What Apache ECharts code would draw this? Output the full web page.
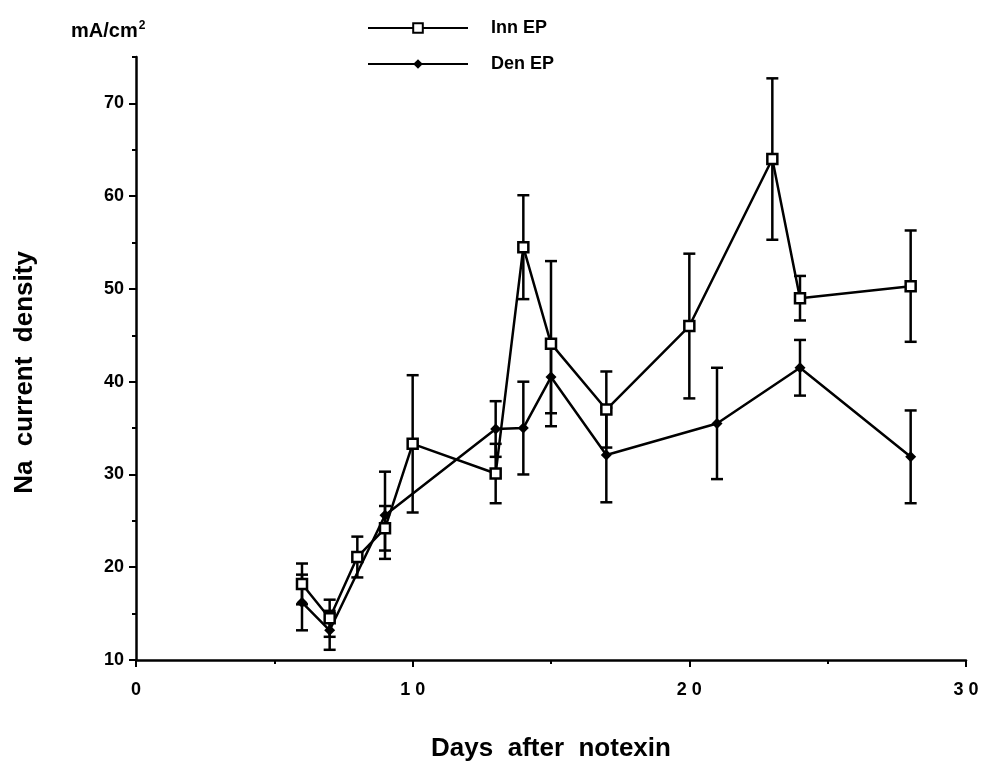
<!DOCTYPE html>
<html>
<head>
<meta charset="utf-8">
<script src="https://cdn.jsdelivr.net/npm/echarts@6/dist/echarts.min.js"></script>
<style>
  html, body { margin: 0; padding: 0; background: #fff; }
  #chart { width: 982px; height: 763px; }
</style>
</head>
<body>
<div id="chart"></div>
<script>
  // days after notexin
  var innDays = [6, 7, 8, 9, 10, 13, 14, 15, 17, 20, 23, 24, 28]
  var innMean = [18.2, 14.5, 21.1, 24.2, 33.3, 30.1, 54.5, 44.1, 37.0, 46.0, 64.0, 49.0, 50.3]
  var innErr = [2.2, 2.0, 2.2, 2.4, 7.4, 3.2, 5.6, 8.9, 4.1, 7.8, 8.7, 2.4, 6.0]

  var denDays = [6, 7, 9, 13, 14, 15, 17, 21, 24, 28]
  var denMean = [16.2, 13.2, 25.6, 34.9, 35.0, 40.5, 32.1, 35.5, 41.5, 31.9]
  var denErr = [3.0, 2.1, 4.7, 3.0, 5.0, 3.9, 5.1, 6.0, 3.0, 5.0]

  var xTicks = [0, 10, 20, 30]
  var yTicks = [10, 20, 30, 40, 50, 60, 70]

  var font = "'Liberation Sans', Arial, sans-serif"
  var ink = '#000'

  function pairs (xs, ys) {
    return xs.map(function (x, i) { return [x, ys[i]] })
  }
  function bars (xs, ys, es) {
    return xs.map(function (x, i) { return [x, ys[i] - es[i], ys[i] + es[i]] })
  }

  function renderErr (params, api) {
    var lo = api.coord([api.value(0), api.value(1)])
    var hi = api.coord([api.value(0), api.value(2)])
    var w = 6
    var st = { stroke: ink, lineWidth: 2.5 }
    return {
      type: 'group',
      children: [
        { type: 'line', shape: { x1: lo[0], y1: lo[1], x2: hi[0], y2: hi[1] }, style: st },
        { type: 'line', shape: { x1: lo[0] - w, y1: lo[1], x2: lo[0] + w, y2: lo[1] }, style: st },
        { type: 'line', shape: { x1: hi[0] - w, y1: hi[1], x2: hi[0] + w, y2: hi[1] }, style: st }
      ]
    }
  }

  var chart = echarts.init(document.getElementById('chart'))
  var option = {
    animation: false,
    backgroundColor: '#fff',
    grid: { left: 136, right: 16, top: 57, bottom: 103, outerBoundsMode: 'none' },
    title: {
      text: 'mA/cm{sup|2}',
      left: 66,
      top: 15,
      textStyle: {
        fontFamily: font, fontSize: 20, fontWeight: 'bold', color: ink,
        rich: { sup: { fontFamily: font, fontSize: 12, fontWeight: 'bold', color: ink, verticalAlign: 'top', padding: [0, 0, 11, 1] } }
      }
    },
    legend: {
      orient: 'vertical',
      left: 362,
      top: 14,
      itemWidth: 100,
      itemHeight: 12,
      itemGap: 18,
      data: ['Inn EP', 'Den EP'],
      textStyle: { fontFamily: font, fontSize: 18, fontWeight: 'bold', color: ink, padding: [0, 0, 0, 18] }
    },
    xAxis: {
      type: 'value',
      min: 0,
      max: 30,
      interval: 10,
      name: 'Days  after  notexin',
      nameLocation: 'middle',
      nameGap: 76,
      nameTextStyle: { fontFamily: font, fontSize: 26, fontWeight: 'bold', color: ink },
      axisLine: { onZero: false, lineStyle: { color: ink, width: 2.5 } },
      axisTick: { length: 7, lineStyle: { color: ink, width: 2 } },
      minorTick: { show: true, splitNumber: 2, length: 4, lineStyle: { color: ink, width: 2 } },
      splitLine: { show: false },
      axisLabel: {
        margin: 21,
        fontFamily: font, fontSize: 18, fontWeight: 'bold', color: ink,
        formatter: function (v) {
          return xTicks.indexOf(v) >= 0 ? String(v).split('').join(' ') : ''
        }
      }
    },
    yAxis: [{
      type: 'value',
      min: 10,
      max: 75,
      interval: 10,
      name: 'Na  current  density',
      nameLocation: 'middle',
      nameGap: 98,
      nameRotate: 90,
      nameTextStyle: { fontFamily: font, fontSize: 26, fontWeight: 'bold', color: ink, padding: [0, 28, 0, 0] },
      axisLine: { lineStyle: { color: ink, width: 2.5 } },
      axisTick: { length: 7, lineStyle: { color: ink, width: 2 } },
      splitLine: { show: false },
      axisLabel: {
        margin: 12,
        showMaxLabel: false,
        fontFamily: font, fontSize: 18, fontWeight: 'bold', color: ink,
        formatter: function (v) { return yTicks.indexOf(v) >= 0 ? String(v) : '' }
      }
    }, {
      type: 'value',
      position: 'left',
      min: 10,
      max: 75,
      interval: 5,
      axisLine: { show: false },
      axisTick: { length: 4, lineStyle: { color: ink, width: 2 } },
      axisLabel: { show: false },
      splitLine: { show: false }
    }],
    series: [{
      name: 'Inn EP err',
      type: 'custom',
      renderItem: renderErr,
      encode: { x: 0, y: [1, 2] },
      data: bars(innDays, innMean, innErr),
      z: 2
    }, {
      name: 'Den EP err',
      type: 'custom',
      renderItem: renderErr,
      encode: { x: 0, y: [1, 2] },
      data: bars(denDays, denMean, denErr),
      z: 2
    }, {
      name: 'Inn EP',
      type: 'line',
      data: pairs(innDays, innMean),
      symbol: 'rect',
      symbolSize: 10,
      lineStyle: { color: ink, width: 2.5 },
      itemStyle: { color: '#fff', borderColor: ink, borderWidth: 2.5 },
      z: 3
    }, {
      name: 'Den EP',
      type: 'line',
      data: pairs(denDays, denMean),
      symbol: 'diamond',
      symbolSize: 11,
      lineStyle: { color: ink, width: 2.5 },
      itemStyle: { color: ink, borderColor: ink, borderWidth: 0 },
      z: 3
    }]
  }
  chart.setOption(option)
</script>
</body>
</html>
